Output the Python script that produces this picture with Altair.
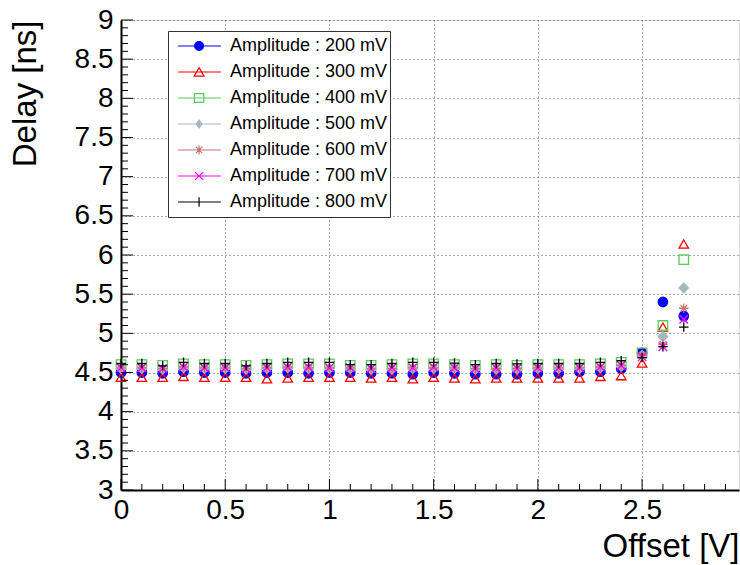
import altair as alt
import pandas as pd

offset = [0.0, 0.1, 0.2, 0.3, 0.4, 0.5, 0.6, 0.7, 0.8, 0.9,
          1.0, 1.1, 1.2, 1.3, 1.4, 1.5, 1.6, 1.7, 1.8, 1.9,
          2.0, 2.1, 2.2, 2.3, 2.4, 2.5, 2.6, 2.7]

d200 = [4.50, 4.50, 4.49, 4.51, 4.50, 4.50, 4.49, 4.50, 4.50, 4.49,
        4.50, 4.50, 4.49, 4.49, 4.48, 4.50, 4.49, 4.48, 4.48, 4.48,
        4.49, 4.49, 4.51, 4.51, 4.55, 4.75, 5.40, 5.22]
d300 = [4.44, 4.44, 4.44, 4.45, 4.44, 4.44, 4.44, 4.42, 4.43, 4.44,
        4.44, 4.44, 4.43, 4.44, 4.42, 4.44, 4.43, 4.42, 4.43, 4.43,
        4.43, 4.43, 4.43, 4.45, 4.46, 4.62, 5.08, 6.14]
d400 = [4.60, 4.60, 4.59, 4.61, 4.60, 4.60, 4.59, 4.60, 4.61, 4.61,
        4.61, 4.59, 4.59, 4.60, 4.61, 4.61, 4.60, 4.59, 4.60, 4.59,
        4.60, 4.60, 4.60, 4.61, 4.63, 4.75, 5.10, 5.94]
d500 = [4.55, 4.55, 4.54, 4.56, 4.55, 4.55, 4.54, 4.55, 4.56, 4.55,
        4.55, 4.55, 4.54, 4.54, 4.55, 4.55, 4.55, 4.54, 4.54, 4.54,
        4.55, 4.55, 4.55, 4.56, 4.58, 4.72, 4.96, 5.58]
d600 = [4.56, 4.56, 4.55, 4.57, 4.56, 4.56, 4.55, 4.56, 4.57, 4.56,
        4.56, 4.56, 4.55, 4.55, 4.56, 4.56, 4.56, 4.55, 4.55, 4.55,
        4.56, 4.56, 4.56, 4.57, 4.59, 4.72, 4.86, 5.32]
d700 = [4.56, 4.56, 4.55, 4.57, 4.56, 4.56, 4.55, 4.56, 4.57, 4.57,
        4.56, 4.56, 4.55, 4.56, 4.56, 4.57, 4.56, 4.55, 4.56, 4.55,
        4.56, 4.56, 4.56, 4.57, 4.59, 4.70, 4.83, 5.18]
d800 = [4.615, 4.615, 4.585, 4.63, 4.615, 4.615, 4.585, 4.615, 4.63, 4.63,
        4.63, 4.60, 4.60, 4.615, 4.63, 4.63, 4.62, 4.60, 4.615, 4.61,
        4.615, 4.615, 4.615, 4.63, 4.65, 4.69, 4.83, 5.08]

series_names = ["Amplitude : 200 mV", "Amplitude : 300 mV", "Amplitude : 400 mV",
                "Amplitude : 500 mV", "Amplitude : 600 mV", "Amplitude : 700 mV",
                "Amplitude : 800 mV"]
series_values = [d200, d300, d400, d500, d600, d700, d800]

stroke_colors = ["#0000ff", "#ff0000", "#55cc55", "#a8b6c4", "#cc7272", "#ff00ff", "#000000"]
fill_colors = ["#0000ff", "transparent", "transparent", "#a8b6c4", "transparent", "transparent", "transparent"]
stroke_widths = [1.3, 1.3, 1.3, 1.3, 1.3, 1.5, 2.2]

ASTER = "M-1,0L1,0M0,-1L0,1M-0.7,-0.7L0.7,0.7M-0.7,0.7L0.7,-0.7"
XMARK = "M-0.9,-0.9L0.9,0.9M-0.9,0.9L0.9,-0.9"
PLUS = "M-1,0L1,0M0,-1L0,1"
data_shapes = ["circle", "triangle-up", "square", "diamond", ASTER, XMARK, PLUS]

L = "M-0.73,0L0.92,0"
legend_shapes = [
    L + "M0.25,0A0.17,0.17,0,1,1,-0.09,0A0.17,0.17,0,1,1,0.25,0Z",
    L + "M0.08,-0.17L0.27,0.16L-0.11,0.16Z",
    L + "M-0.1,-0.17L0.26,-0.17L0.26,0.17L-0.1,0.17Z",
    L + "M0.08,-0.15L0.19,0L0.08,0.15L-0.03,0Z",
    L + "M-0.09,0L0.25,0M0.08,-0.17L0.08,0.17M-0.04,-0.12L0.2,0.12M-0.04,0.12L0.2,-0.12",
    L + "M-0.08,-0.15L0.24,0.15M-0.08,0.15L0.24,-0.15",
    L + "M-0.1,0L0.26,0M0.08,-0.18L0.08,0.18",
]

yMajor = [3, 3.5, 4, 4.5, 5, 5.5, 6, 6.5, 7, 7.5, 8, 8.5, 9]
yMinor = [round(3 + 0.1 * i, 1) for i in range(61) if i % 5 != 0]
xMajor = [0, 0.5, 1, 1.5, 2, 2.5]
xMinor = [round(0.1 * i, 1) for i in range(30) if i % 5 != 0]

rows = []
for name, vals in zip(series_names, series_values):
    for xv, yv in zip(offset, vals):
        rows.append({"offset": xv, "delay": yv, "series": name})
df = pd.DataFrame(rows)

W, H = 618, 470
FONT = "Liberation Sans"

xscale = alt.Scale(domain=[0, 2.965], nice=False, zero=False)
yscale = alt.Scale(domain=[3, 9], nice=False, zero=False)

x_axis = alt.Axis(values=xMajor, grid=True, gridDash=[1, 3], gridColor="#555555", gridWidth=1,
                  ticks=False, tickSize=0, labelFontSize=28, labelFont=FONT, labelColor="black",
                  labelPadding=6, labelFlush=False, labelOverlap=False, labelBound=False,
                  domainColor="black", domainWidth=2,
                  title="Offset [V]", titleFont=FONT, titleFontSize=33, titleFontWeight="normal",
                  titleColor="black", titleAlign="right", titleBaseline="alphabetic",
                  titleX=W, titleY=66, format="~g")
y_axis = alt.Axis(values=yMajor, grid=True, gridDash=[1, 3], gridColor="#555555", gridWidth=1,
                  ticks=False, tickSize=0, labelFontSize=28, labelFont=FONT, labelColor="black",
                  labelPadding=8, labelFlush=False, labelOverlap=False, labelBound=False,
                  domainColor="black", domainWidth=2,
                  title="Delay [ns]", titleFont=FONT, titleFontSize=33, titleFontWeight="normal",
                  titleColor="black", titleAngle=-90, titleAlign="right", titleBaseline="alphabetic",
                  titleX=-86, titleY=0, format="~g")

points = alt.Chart(df).mark_point(size=90, opacity=1).encode(
    x=alt.X("offset:Q", scale=xscale, axis=x_axis),
    y=alt.Y("delay:Q", scale=yscale, axis=y_axis),
    shape=alt.Shape("series:N", scale=alt.Scale(domain=series_names, range=data_shapes), legend=None),
    stroke=alt.Stroke("series:N", scale=alt.Scale(domain=series_names, range=stroke_colors), legend=None),
    fill=alt.Fill("series:N", scale=alt.Scale(domain=series_names, range=fill_colors), legend=None),
    strokeWidth=alt.StrokeWidth("series:N", scale=alt.Scale(domain=series_names, range=stroke_widths), legend=None),
    order=alt.Order("series:N"),
)

leg = alt.Legend(title=None, orient="none", legendX=47, legendY=11, direction="vertical",
                 clipHeight=26, rowPadding=0, padding=2, strokeColor="#333333", fillColor="white",
                 labelFont=FONT, labelFontSize=18, labelColor="black", labelOffset=6,
                 labelExpr="datum.label + '\u00a0\u00a0\u00a0\u00a0'",
                 symbolSize=2704, symbolStrokeWidth=1.2, symbolOpacity=1, labelLimit=400)

legend_layer = alt.Chart(df).transform_filter("false").mark_point(size=2704, opacity=1).encode(
    x=alt.X("offset:Q", scale=xscale, axis=x_axis),
    y=alt.Y("delay:Q", scale=yscale, axis=y_axis),
    shape=alt.Shape("series:N", scale=alt.Scale(domain=series_names, range=legend_shapes), legend=leg),
    stroke=alt.Stroke("series:N", scale=alt.Scale(domain=series_names, range=stroke_colors), legend=leg),
    fill=alt.Fill("series:N", scale=alt.Scale(domain=series_names, range=fill_colors), legend=leg),
)

ymaj_df = pd.DataFrame({"v": yMajor})
ymin_df = pd.DataFrame({"v": yMinor})
xmaj_df = pd.DataFrame({"v": xMajor})
xmin_df = pd.DataFrame({"v": xMinor})

ytick_major = alt.Chart(ymaj_df).mark_rule(color="black", strokeWidth=1).encode(
    y=alt.Y("v:Q", scale=yscale, axis=y_axis), x=alt.value(0), x2=alt.value(12))
ytick_minor = alt.Chart(ymin_df).mark_rule(color="black", strokeWidth=1).encode(
    y=alt.Y("v:Q", scale=yscale, axis=y_axis), x=alt.value(0), x2=alt.value(7))
xtick_major = alt.Chart(xmaj_df).mark_rule(color="black", strokeWidth=1).encode(
    x=alt.X("v:Q", scale=xscale, axis=x_axis), y=alt.value(H), y2=alt.value(H - 11))
xtick_minor = alt.Chart(xmin_df).mark_rule(color="black", strokeWidth=1).encode(
    x=alt.X("v:Q", scale=xscale, axis=x_axis), y=alt.value(H), y2=alt.value(H - 6))

chart = alt.layer(
    points, ytick_major, ytick_minor, xtick_major, xtick_minor, legend_layer
).resolve_scale(
    shape="independent", stroke="independent", fill="independent"
).properties(
    width=W, height=H,
    autosize=alt.AutoSizeParams(type="none"),
    padding={"left": 121, "top": 20, "right": 1, "bottom": 75},
).configure_view(stroke=None).configure(background="white")

chart.save("out.html", embed_options={"renderer": "svg", "actions": False})
